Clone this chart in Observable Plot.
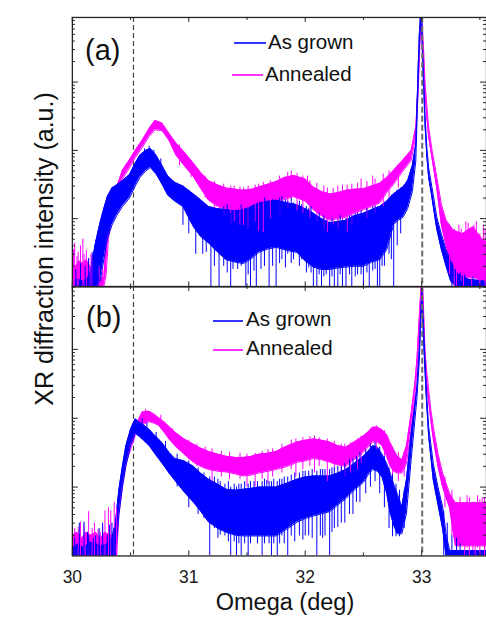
<!DOCTYPE html>
<html><head><meta charset="utf-8">
<script src="https://cdn.jsdelivr.net/npm/d3@7"></script>
<script src="https://cdn.jsdelivr.net/npm/@observablehq/plot@0.6"></script>
<style>
body{margin:0;background:#fff;overflow:hidden;}
#wrap{position:relative;width:486px;height:618px;overflow:hidden;font-family:"Liberation Sans",Arial,sans-serif;background:#fff;}
#wrap > svg{display:block;}
#overlay{position:absolute;left:0;top:0;pointer-events:none;}
</style></head><body><div id="wrap"></div>
<script>
// ---------- tick values ----------
const xMajor = [30, 31, 32, 33];
const xMinor = [30.5, 31.5, 32.5, 33.5];
const xTickLabels = ["30", "31", "32", "33"];
const yMajor = [10, 100, 1000];
const yMinor = [2,3,4,5,6,7,8,9,20,30,40,50,60,70,80,90,200,300,400,500,600,700,800,900,2000,3000,4000,5000,6000,7000,8000];
const refLines = [30.525, 33.005];

// ---------- panel (a) : As grown ----------
const aBlueX = [30.00,30.05,30.10,30.15,30.20,30.24,30.27,30.30,30.34,30.38,
  30.43,30.49,30.54,30.58,30.63,30.67,30.72,30.77,30.82,30.88,
  30.95,31.04,31.10,31.17,31.25,31.32,31.40,31.47,31.54,31.60,
  31.68,31.75,31.85,31.93,32.00,32.07,32.14,32.21,32.28,32.35,
  32.42,32.50,32.57,32.64,32.70,32.76,32.80,32.84,32.88,32.92,
  32.95,32.97,32.98,32.99,33.00,33.01,33.02,33.03,33.045,33.06,
  33.08,33.10,33.13,33.17,33.21,33.25,33.30,33.40,33.56];
const aBlueHi = [1.2,1.3,1.2,1.5,4.5,9,14,21,28,31,
  36,44,65,85,100,107,85,60,42,34,
  30,23,19,15,14,13.5,13,13.5,15,17,
  18,18.6,17,16,14,12,10,8.7,9,9.5,
  11,12,13.5,15,18,23,26,29,36,60,
  123,1585,5000,9500,9500,2500,900,309,110,56,
  35,22,10.5,5.9,3.5,2.4,1.6,1.3,1.2];
const aBlueLo = [1,1,1,1,1,1.2,2.5,5,8,11,
  15,20,30,40,50,56,45,32,22,18,
  15,7.6,5.5,4.4,3.2,2.5,2.3,2.2,2.6,3.2,
  3.6,3.8,3.4,3.2,2.4,1.95,1.8,1.8,1.9,1.95,
  2.0,2.0,2.3,2.5,3.5,8.3,9.5,10.5,14,25,
  70,1000,3500,7000,7000,1800,650,220,80,40,
  25,15,7,3.5,2,1.2,1,1,1];
// ---------- panel (a) : Annealed ----------
const aMagX = [30.00,30.03,30.06,30.09,30.12,30.15,30.18,30.21,30.24,30.27,
  30.29,30.31,30.33,30.37,30.43,30.49,30.54,30.60,30.66,30.71,
  30.77,30.83,30.89,30.96,31.04,31.10,31.17,31.25,31.32,31.40,
  31.47,31.54,31.60,31.68,31.75,31.82,31.90,32.00,32.07,32.14,
  32.21,32.28,32.35,32.42,32.50,32.57,32.64,32.70,32.76,32.84,
  32.91,32.95,32.97,32.985,33.00,33.015,33.03,33.045,33.06,33.09,
  33.13,33.17,33.21,33.27,33.35,33.44,33.52,33.56];
const aMagHi = [2.2,2.0,2.4,2.2,2.5,2.0,1.8,1.6,1.4,1.3,
  5,9,13.5,25,51,72,100,141,209,275,
  251,178,128,95,65,48,36,31,28,27,
  26,27,29,32,35,40,43,38,29,25,
  23,24,26,27,27.5,30,33,40,51,72,
  100,219,933,5000,9500,3550,933,450,219,100,
  41,16,9.5,6.8,6,7.6,5,4.5];
const aMagLo = [1,1,1,1,1,1,1,1,1,1,
  1.5,5,9,18,38,55,78,110,160,200,
  195,140,85,60,41,28,18.6,15,13.5,12.5,
  12,12.5,13.5,15,17,19,21,18,13.5,11,
  9.5,10,10.5,12,13.5,15,17,24,32,50,
  71,160,700,3500,7000,2500,700,300,160,75,
  28,8,4,1.6,1.3,1.4,1.2,1.2];

// ---------- panel (b) : As grown ----------
const bBlueX = [30.00,30.05,30.10,30.15,30.20,30.25,30.30,30.34,30.37,30.40,
  30.43,30.46,30.50,30.54,30.57,30.61,30.66,30.70,30.74,30.79,
  30.83,30.88,30.96,31.04,31.10,31.17,31.25,31.32,31.40,31.47,
  31.54,31.60,31.68,31.75,31.85,31.93,32.00,32.07,32.14,32.21,
  32.28,32.35,32.42,32.50,32.54,32.58,32.62,32.66,32.70,32.73,
  32.76,32.79,32.83,32.87,32.91,32.935,32.96,32.98,32.99,33.003,
  33.02,33.04,33.06,33.10,33.14,33.18,33.21,33.24,33.30,33.40,
  33.56];
const bBlueHi = [1.3,1.5,1.3,1.6,1.5,1.4,1.5,1.8,3,9.3,
  20,40,69,98,89,80,69,58,50,40,
  32,26,24,20,16,13,11,9.3,9,9.3,
  9.6,10,10,10,11.5,13,14,14.5,14.5,14.5,
  16,18,22,28,33,40,38,30,22,16,
  11,8.1,5.2,13,60,130,288,1000,2700,8000,
  1550,288,76,22,10,5.2,2.1,1.2,1.2,1.2,
  1.2];
const bBlueLo = [1,1,1,1,1,1,1,1,1,4,
  10,20,40,60,55,48,40,32,26,20,
  16,12.5,8.5,6,4.5,3.1,2.5,2.2,2.0,1.95,
  1.95,1.95,1.95,1.95,2.5,3.1,3.5,3.8,4.1,4.4,
  5.5,6.8,9,11.7,15,18,17,14,8.1,4.2,
  2.8,2.1,2.1,4.2,25,70,200,700,2000,5000,
  1000,200,55,12.6,5.6,2.5,1,1,1,1,
  1];
// ---------- panel (b) : Annealed ----------
const bMagX = [30.00,30.04,30.08,30.12,30.16,30.20,30.24,30.28,30.32,30.36,
  30.38,30.40,30.43,30.46,30.50,30.54,30.60,30.66,30.70,30.74,
  30.79,30.83,30.88,30.96,31.04,31.10,31.17,31.25,31.32,31.40,
  31.47,31.54,31.60,31.68,31.75,31.85,31.93,32.00,32.07,32.14,
  32.21,32.28,32.35,32.42,32.50,32.54,32.58,32.62,32.66,32.70,
  32.73,32.76,32.79,32.83,32.87,32.91,32.94,32.96,32.98,32.995,
  33.01,33.03,33.045,33.06,33.08,33.10,33.14,33.18,33.24,33.29,
  33.35,33.45,33.56];
const bMagHi = [2.0,2.2,1.8,2.2,2.0,2.2,1.8,2.2,2.0,2.0,
  2.5,8,18,35,50,76,123,126,115,102,
  88,76,63,50,42,37,33,30,28,27,
  27,28,30,31,33,40,45,48,50,48,
  45,40,38,45,55,63,74,74,68,58,
  44,35,28,25,40,117,300,724,3000,8100,
  8100,871,450,263,130,76,31,16,8.1,5.9,
  5.9,5.9,5.9];
const bMagLo = [1,1,1,1,1,1,1,1,1,1,
  1,4,10,22,35,56,80,89,85,79,
  62,50,40,30,23,20,18,17,16.6,15.5,
  14.5,15,16,17,18,20,23,24,26,25,
  23,21,20,25,32,38,45,45,40,28,
  20,17,16,16,22,70,200,500,2000,6000,
  6000,600,300,180,90,50,20,10,5,1.4,
  1.4,1.4,1.4];

// ---------- noise spikes [omega, low, high] ----------
const aBlueSpikes = [[30.03,1,1.8],[30.07,1,2.2],[30.11,1,2.0],[30.14,1,2.6],[30.17,1,3.2],[30.19,1,4],[30.22,1,6.5],
  [30.62,60,105],[30.66,60,115],[30.70,55,100],[30.76,40,75],
  [30.95,8,30],[31.00,6,26],[31.06,3,20],[31.12,3,17],[31.15,3.2,15],[31.19,1,13],[31.22,2,14],[31.26,1,13],[31.30,2,15],
  [31.33,1.6,16],[31.36,1,12],[31.38,1.8,13],[31.42,1.8,13],[31.45,2,16],[31.49,1,13],[31.51,1.5,14],[31.53,1,13],[31.56,1.7,16],
  [31.58,1,14],[31.62,1.8,17],[31.65,2,20],[31.69,1,17],[31.72,2,19],[31.75,1,18],[31.78,2.2,20],[31.80,2.5,21],[31.83,1.9,19],
  [31.85,3,18],[31.88,2.2,20],[31.90,2.5,17],[31.95,2,18],[31.97,2.5,16],[32.01,1.6,15],[32.03,1.9,14],[32.05,1.6,15],[32.07,1,12],
  [32.10,1,11],[32.12,1.5,12],[32.14,1,10],[32.16,1.4,11],[32.18,1.5,9.5],[32.21,1,9],[32.23,1.4,10],[32.25,1,9],[32.28,1,9.5],
  [32.30,1.5,11],[32.32,1,9.5],[32.35,1,10],[32.38,1.5,11],[32.40,1,11],[32.43,1.4,12],[32.45,1.5,12],[32.48,1.5,13],[32.50,1,12],
  [32.53,1.6,14],[32.55,1,13],[32.58,1.7,15],[32.60,1.8,15],[32.62,1,15],[32.64,1,15],[32.66,2,16],[32.68,2,17],[32.72,3,20],
  [32.74,2.5,22],[32.76,1,23],[32.79,4,26],[32.82,6,28],
  [33.26,1,2.2],[33.29,1,1.8],[33.33,1,1.6],[33.37,1,1.5],[33.44,1,1.4]];
const aMagSpikes = [[30.01,1,3.5],[30.02,1,4.4],[30.04,1,2.8],[30.05,1,3.2],[30.07,1,4],[30.09,1,5],[30.10,1,3],[30.12,1,3.4],
  [30.14,1,2.6],[30.16,1,3],[30.17,1,2.9],[30.19,1,2.2],[30.23,1,2],[30.26,1,1.8],
  [30.92,60,120],[31.02,40,70],[31.14,20,42],[31.22,14,35],[31.30,11,32],[31.36,8,30],[31.39,9,30],[31.44,8,29],[31.47,8,28],
  [31.51,7,30],[31.57,9,31],[31.60,6.5,32],[31.64,6.2,34],[31.70,10,36],[31.78,11,42],[31.85,14,48],[31.88,20,50],[31.93,13,46],
  [31.98,12,42],[32.02,18,42],[32.04,10,36],[32.10,9,33],[32.16,7,30],[32.19,6.2,28],[32.24,8,28],[32.28,7,30],[32.32,8,31],
  [32.36,6.2,31],[32.40,8,32],[32.45,9,33],[32.48,14,38],[32.53,10,35],[32.58,16,42],[32.60,12,38],[32.67,15,45],[32.72,20,50],
  [32.80,28,62],
  [33.24,1.5,8],[33.28,1,7],[33.30,1,5],[33.32,1.5,8],[33.34,1.2,7],[33.36,1,6],[33.38,1.4,9],[33.40,1.5,8.5],[33.43,1,5],
  [33.45,1.3,8],[33.47,1.5,9],[33.50,1,6],[33.53,1.5,8],[33.545,1,7]];
const bBlueSpikes = [[30.02,1,1.8],[30.06,1,3],[30.10,1,3.1],[30.13,1,2.2],[30.14,1,2],[30.18,1,1.8],[30.20,1,1.95],[30.23,1,2.5],
  [30.26,1,3],[30.30,1,2],[30.32,1,2.8],[30.34,1,3],[30.36,1,2.5],
  [30.60,60,98],[30.64,45,85],[30.72,30,62],[30.80,20,46],[30.90,10,30],[31.00,5,24],[31.08,4,19],[31.13,3.5,16],[31.18,1,14],
  [31.22,2.5,14],[31.25,1.8,13],[31.27,2,12],[31.31,1.95,11],[31.34,1.6,12],[31.36,1,10],[31.39,1.6,11],[31.41,1,10],[31.43,1.5,11],
  [31.45,1,11],[31.48,1.5,12],[31.51,1,11],[31.53,1.5,12],[31.56,1.95,12],[31.59,1.5,12],[31.63,1,12],[31.65,1.5,13],[31.67,1.95,12.5],
  [31.69,1.5,12],[31.71,1,12],[31.73,1.5,13],[31.76,1,12],[31.78,1.5,13],[31.80,1.95,13],[31.82,1.5,14],[31.85,1,14],[31.88,1.95,15],
  [31.91,1.6,16],[31.95,1.95,16],[31.98,1.7,17],[32.00,1.95,17],[32.03,1.95,17],[32.06,1.8,18],[32.10,1,17],[32.13,1.95,18],
  [32.15,1.8,18],[32.17,1.95,18],[32.21,1,18],[32.23,2.2,19],[32.25,2.5,19],[32.28,2.6,20],[32.31,3,20],[32.34,3,22],[32.38,4,25],
  [32.41,4,26],[32.44,6,28],[32.47,6,32],[32.52,8,35],[32.56,10,42],[32.60,12,45],[32.64,8,38],[32.68,5,28],[32.72,2.5,19],
  [32.75,1.9,15],[32.78,1.9,11],[32.81,1.9,9],[32.85,2.5,9],
  [33.19,1,4.5],[33.22,1,3],[33.26,1,2],[33.30,1,1.8],[33.33,1,1.5]];
const bMagSpikes = [[30.02,1,2.5],[30.05,1,2.6],[30.07,1,3.1],[30.10,1,2.8],[30.11,1,2.2],[30.14,1,4.4],[30.17,1,2.5],[30.19,1,3],
  [30.22,1,2.4],[30.24,1,2.2],[30.26,1,2.6],[30.28,1,4.5],[30.31,1,5],[30.33,1,4.5],[30.36,1,6],[30.38,1,5],
  [30.63,90,135],[30.76,70,110],[30.86,45,70],[31.00,25,48],[31.07,20,42],[31.14,18,38],[31.20,12,36],[31.28,14,33],[31.35,13,32],
  [31.44,13,31],[31.50,10,30],[31.57,10,31],[31.63,13,33],[31.68,11,35],[31.72,14,36],[31.80,16,42],[31.88,18,48],[31.92,14,50],
  [31.98,18,52],[32.04,20,54],[32.08,16,55],[32.12,20,52],[32.19,12,50],[32.25,18,46],[32.31,16,42],[32.34,14,42],[32.39,16,44],
  [32.45,18,50],[32.48,22,55],[32.56,30,70],[32.61,35,78],[32.68,28,66],[32.75,14,38],[32.80,12,32],[32.85,14,32],
  [33.20,5,14],[33.26,2,9],[33.30,1,6],[33.33,1.4,7],[33.37,1,5.5],[33.39,1.3,7.5],[33.41,1,7],[33.44,1.2,6],[33.46,1,6],
  [33.48,1.3,7.5],[33.50,1,6.5],[33.52,1.5,7],[33.54,1,7]];

const seriesNames = ["As grown", "Annealed"];
const panelNames = ["(a)", "(b)"];
const BLUE = "#0000ff", MAG = "#ff00ff";

// ---------- helpers ----------
const band = (xs, lo, hi) => xs.map((x, i) => ({x, lo: lo[i], hi: hi[i]}));
const spk = (arr) => arr.map(([x, lo, hi]) => ({x, lo, hi}));

// plot is one pixel wider than the window so the right frame edge falls just outside, as in the reference
const W = 487, ML = 72, MR = 0, INNER_H = 270;
const INNER_W = W - ML - MR;
const xDomain = [30, 33.557];

function seriesMarks(data, color) {
  return [
    Plot.areaY(data, {x: "x", y1: "lo", y2: "hi", fill: color, clip: true}),
    Plot.lineY(data, {x: "x", y: "hi", stroke: color, strokeWidth: 1, clip: true}),
    Plot.lineY(data, {x: "x", y: "lo", stroke: color, strokeWidth: 1, clip: true})
  ];
}

function panel({blue, mag, blueSp, magSp, yTopExp, height, marginTop, marginBottom, labels}) {
  const marks = [
    Plot.ruleX([refLines[0]], {stroke: "#444", strokeDasharray: "5,3", strokeWidth: 1.2}),
    ...seriesMarks(mag, MAG),
    ...seriesMarks(blue, BLUE),
    Plot.ruleX(magSp, {x: "x", y1: "lo", y2: "hi", stroke: MAG, strokeWidth: 1, clip: true}),
    Plot.ruleX(blueSp, {x: "x", y1: "lo", y2: "hi", stroke: BLUE, strokeWidth: 1, clip: true}),
    Plot.ruleX([refLines[1]], {stroke: "#6a6a6a", strokeDasharray: "6,3", strokeWidth: 2}),
    // inward ticks
    Plot.tickX(xMajor, {insetTop: INNER_H - 5, stroke: "#222"}),
    Plot.tickX(xMajor, {insetBottom: INNER_H - 5, stroke: "#222"}),
    Plot.tickX(xMinor, {insetTop: INNER_H - 3, stroke: "#222"}),
    Plot.tickX(xMinor, {insetBottom: INNER_H - 3, stroke: "#222"}),
    Plot.tickY(yMajor, {insetRight: INNER_W - 6, stroke: "#222"}),
    Plot.tickY(yMajor, {insetLeft: INNER_W - 6, stroke: "#222"}),
    Plot.tickY(yMinor, {insetRight: INNER_W - 3, stroke: "#222", clip: true}),
    Plot.tickY(yMinor, {insetLeft: INNER_W - 3, stroke: "#222", clip: true}),
    Plot.frame({stroke: "#222", strokeWidth: 1.3})
  ];
  if (labels) {
    marks.push(Plot.text(xMajor, {x: d => d, text: (d, i) => xTickLabels[i], frameAnchor: "bottom",
      lineAnchor: "top", dy: 15, fontSize: 17.5, fill: "#1a1a1a"}));
  }
  return Plot.plot({
    width: W, height, marginLeft: ML, marginRight: MR, marginTop, marginBottom,
    style: {fontFamily: '"Liberation Sans", Arial, sans-serif', background: "white", overflow: "visible"},
    x: {domain: xDomain, axis: null},
    y: {type: "log", domain: [1, 10 ** yTopExp], axis: null},
    marks
  });
}

const wrap = document.getElementById("wrap");
wrap.appendChild(panel({
  blue: band(aBlueX, aBlueLo, aBlueHi), mag: band(aMagX, aMagLo, aMagHi),
  blueSp: spk(aBlueSpikes), magSp: spk(aMagSpikes),
  yTopExp: 3.947, height: 287, marginTop: 17, marginBottom: 0, labels: false
}));
wrap.appendChild(panel({
  blue: band(bBlueX, bBlueLo, bBlueHi), mag: band(bMagX, bMagLo, bMagHi),
  blueSp: spk(bBlueSpikes), magSp: spk(bMagSpikes),
  yTopExp: 3.913, height: 331, marginTop: 0, marginBottom: 61, labels: true
}));

// ---------- overlay text: panel labels, legends, axis titles ----------
const NS = "http://www.w3.org/2000/svg";
const ov = document.createElementNS(NS, "svg");
ov.setAttribute("id", "overlay");
ov.setAttribute("width", 486); ov.setAttribute("height", 618);
ov.setAttribute("font-family", '"Liberation Sans", Arial, sans-serif');
function txt(s, x, y, size, extra = {}) {
  const t = document.createElementNS(NS, "text");
  t.textContent = s; t.setAttribute("x", x); t.setAttribute("y", y);
  t.setAttribute("font-size", size); t.setAttribute("fill", "#111");
  for (const k in extra) t.setAttribute(k, extra[k]);
  ov.appendChild(t);
}
function seg(x1, x2, y, color) {
  const l = document.createElementNS(NS, "line");
  l.setAttribute("x1", x1); l.setAttribute("x2", x2); l.setAttribute("y1", y); l.setAttribute("y2", y);
  l.setAttribute("stroke", color); l.setAttribute("stroke-width", 1.6);
  ov.appendChild(l);
}
txt(panelNames[0], 85, 60, 29);
txt(panelNames[1], 86, 327, 29);
seg(234, 266, 43, BLUE); txt(seriesNames[0], 268, 49, 20.5);
seg(232, 263, 75, MAG); txt(seriesNames[1], 265, 81, 20.5);
seg(213, 243, 321, BLUE); txt(seriesNames[0], 246, 326, 20.5);
seg(213, 243, 350, MAG); txt(seriesNames[1], 246, 355, 20.5);
txt("Omega (deg)", 285, 610, 23.5, {"text-anchor": "middle"});
txt("XR diffraction intensity (a.u.)", 0, 0, 25, {"text-anchor": "middle", transform: "translate(53,249) rotate(-90)"});
wrap.appendChild(ov);
</script></body></html>
